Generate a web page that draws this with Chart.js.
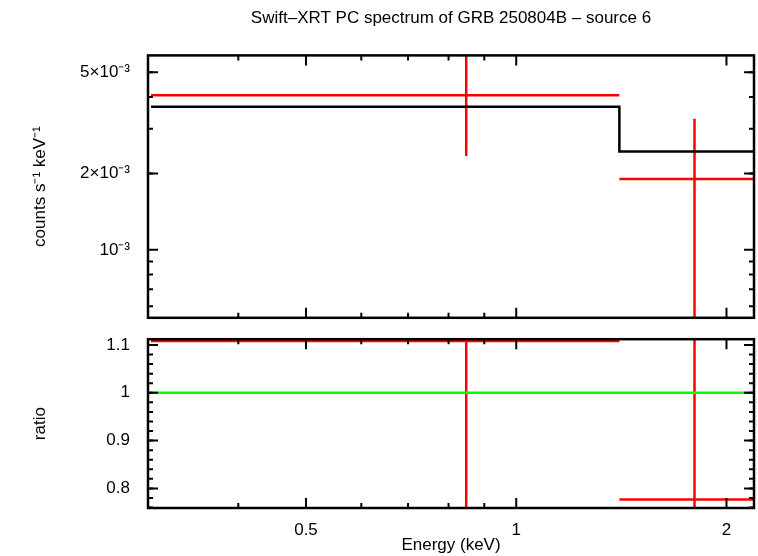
<!DOCTYPE html>
<html><head><meta charset="utf-8">
<script src="https://cdn.jsdelivr.net/npm/chart.js@4/dist/chart.umd.min.js"></script>
<style>
body{margin:0;background:#fff;width:758px;height:556px;position:relative;overflow:hidden}
#c1{position:absolute;left:0;top:0}
#c2{position:absolute;left:0;top:319px}
</style></head><body>
<canvas id="c1" width="758" height="338"></canvas>
<canvas id="c2" width="758" height="237"></canvas>
<script>
// datos
const binLo = [0.30, 1.405];
const binHi = [1.405, 2.20];
const binCenter = [0.848, 1.80];
const rateVals = [4.06e-3, 1.90e-3];
const rateErrLo = [2.34e-3, 4.5e-4];
const rateErrHi = [6.5e-3, 3.28e-3];
const modelVals = [3.66e-3, 2.44e-3];
const ratioVals = [1.108, 0.777];
const ratioErrLo = [0.64, 0.18];
const ratioErrHi = [1.78, 1.34];
const xMajor = [0.5, 1, 2];
const xMinor = [0.4, 0.6, 0.7, 0.8, 0.9];
const yTopMajor = [2e-3, 5e-3, 1e-3];
const yTopLabels = ['2×10⁻³', '5×10⁻³', '10⁻³'];
const ratioMajor = [0.8, 0.9, 1, 1.1];

const X_MIN = 0.297, X_MAX = 2.19;
const RED = '#ff0000', FONT = {family: 'Liberation Sans', size: 17, weight: 'normal'};

function segs(xs, ys, color) {
    return {type: 'line', data: xs.map((x, i) => ({x: x, y: ys[i]})), borderColor: color,
        borderWidth: 2.5, pointRadius: 0, showLine: true, spanGaps: false, clip: true};
}
function errorDatasets(vals, lo, hi, color) {
    const out = [];
    for (let i = 0; i < vals.length; i++) {
        out.push(segs([binLo[i], binHi[i]], [vals[i], vals[i]], color));
        out.push(segs([binCenter[i], binCenter[i]], [lo[i], hi[i]], color));
    }
    return out;
}

// marcas hacia adentro estilo pgplot
const inwardTicks = {
    id: 'inwardTicks',
    afterDraw(chart, args, opts) {
        const ctx = chart.ctx, a = chart.chartArea, sx = chart.scales.x, sy = chart.scales.y;
        ctx.save();
        ctx.strokeStyle = '#000'; ctx.lineWidth = 2;
        const tx = (v, len) => { const p = sx.getPixelForValue(v);
            ctx.beginPath(); ctx.moveTo(p, a.bottom); ctx.lineTo(p, a.bottom - len);
            ctx.moveTo(p, a.top); ctx.lineTo(p, a.top + len); ctx.stroke(); };
        const ty = (v, len) => { const p = sy.getPixelForValue(v);
            if (p < a.top - 1 || p > a.bottom + 1) return;
            ctx.beginPath(); ctx.moveTo(a.left, p); ctx.lineTo(a.left + len, p);
            ctx.moveTo(a.right, p); ctx.lineTo(a.right - len, p); ctx.stroke(); };
        xMajor.forEach(v => tx(v, 10)); xMinor.forEach(v => tx(v, 5));
        opts.yMajor.forEach(v => ty(v, 10)); opts.yMinor.forEach(v => ty(v, 5));
        ctx.lineWidth = 2.5;
        ctx.strokeRect(a.left, a.top, a.right - a.left, a.bottom - a.top);
        ctx.restore();
    }
};

const topMinor = [];
[1e-4, 1e-3].forEach(d => { for (let k = 2; k <= 9; k++) topMinor.push(k * d); });
const ratioMinor = [];
for (let v = 0.74; v <= 1.12; v += 0.02) ratioMinor.push(+v.toFixed(2));

const xScale = (showLabels) => ({
    type: 'logarithmic', min: X_MIN, max: X_MAX, display: showLabels,
    grid: {display: false}, border: {display: false},
    afterBuildTicks: s => { s.ticks = xMajor.map(v => ({value: v})); },
    ticks: {display: showLabels, color: '#000', font: FONT, padding: 4, maxRotation: 0,
        callback: v => String(v)},
    title: {display: showLabels, text: 'Energy (keV)', color: '#000', font: FONT, padding: 0},
    afterFit: s => { s.height = showLabels ? 48 : 0; }
});

new Chart(document.getElementById('c1'), {
    type: 'scatter',
    data: {datasets: [
        segs([binLo[0], binHi[0], binHi[0], binHi[1]], [modelVals[0], modelVals[0], modelVals[1], modelVals[1]], '#000'),
        ...errorDatasets(rateVals, rateErrLo, rateErrHi, RED)
    ]},
    options: {
        responsive: false, animation: false,
        layout: {padding: {left: 0, right: 4, top: 0, bottom: 0}},
        plugins: {
            legend: {display: false}, tooltip: {enabled: false},
            title: {display: true, fullSize: false, text: 'Swift–XRT PC spectrum of GRB 250804B – source 6',
                color: '#000', font: FONT, padding: {top: 8, bottom: 27}},
            inwardTicks: {yMajor: yTopMajor, yMinor: topMinor}
        },
        scales: {
            x: xScale(false),
            y: {type: 'logarithmic', min: 5.4e-4, max: 5.83e-3,
                grid: {display: false}, border: {display: false},
                afterBuildTicks: s => { s.ticks = yTopMajor.map(v => ({value: v})); },
                ticks: {color: '#000', font: FONT, padding: 10,
                    callback: v => yTopLabels[yTopMajor.indexOf(v)]},
                title: {display: true, text: 'counts s⁻¹ keV⁻¹', color: '#000', font: FONT, padding: {top: 30}},
                afterFit: s => { s.width = 148; }}
        }
    },
    plugins: [inwardTicks]
});

new Chart(document.getElementById('c2'), {
    type: 'scatter',
    data: {datasets: [
        segs([X_MIN, X_MAX], [1, 1], '#00ff00'),
        ...errorDatasets(ratioVals, ratioErrLo, ratioErrHi, RED)
    ]},
    options: {
        responsive: false, animation: false,
        layout: {padding: {left: 0, right: 4, top: 0, bottom: 0}},
        plugins: {
            legend: {display: false}, tooltip: {enabled: false},
            inwardTicks: {yMajor: ratioMajor, yMinor: ratioMinor}
        },
        scales: {
            x: xScale(true),
            y: {type: 'linear', min: 0.759, max: 1.112,
                grid: {display: false}, border: {display: false},
                afterBuildTicks: s => { s.ticks = ratioMajor.map(v => ({value: v})); },
                ticks: {color: '#000', font: FONT, padding: 10, callback: v => String(v)},
                title: {display: true, text: 'ratio', color: '#000', font: FONT, padding: {top: 30}},
                afterFit: s => { s.width = 148; }}
        }
    },
    plugins: [inwardTicks]
});
</script>
</body></html>
